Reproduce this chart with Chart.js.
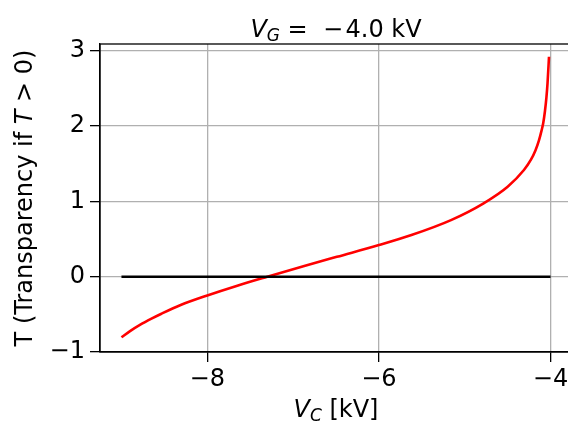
<!DOCTYPE html>
<html>
<head>
<meta charset="utf-8">
<script src="https://cdn.jsdelivr.net/npm/chart.js@4/dist/chart.umd.min.js"></script>
<style>
  html, body { margin: 0; padding: 0; background: #fff; overflow: hidden; }
  canvas { display: block; }
</style>
</head>
<body>
<canvas id="c" width="600" height="424"></canvas>
<script>
// Collector voltage V_C (kV) and the resulting T value
const vc = [-9.0, -8.9, -8.78, -8.65, -8.54, -8.31, -8.0, -7.65, -7.30, -6.87, -6.49, -6.0,
            -5.63, -5.16, -4.78, -4.50, -4.31, -4.23, -4.175, -4.135, -4.105,
            -4.085, -4.065, -4.048, -4.035, -4.018];
const tValues = [-0.805, -0.723, -0.637, -0.557, -0.495, -0.376, -0.249, -0.119, 0.0, 0.142, 0.264, 0.42,
                 0.55, 0.752, 0.975, 1.195, 1.417, 1.55, 1.68, 1.81, 1.94,
                 2.04, 2.2, 2.38, 2.57, 2.92];

// Zero reference line
const zeroX = [-9.0, -4.0];
const zeroY = [0, 0];

// Axis ticks
const xTicks = [-8, -6, -4];
const yTicks = [-1, 0, 1, 2, 3];

const FONT = '"DejaVu Sans", "Liberation Sans", sans-serif';
const FS = 24;

// Draws the mixed-style labels (italic symbols with subscripts) and the full axes frame
const labelsPlugin = {
  id: 'labels',
  afterDraw(chart) {
    const ctx = chart.ctx;
    const a = chart.chartArea;
    ctx.save();
    // frame on all four sides
    ctx.strokeStyle = '#000';
    ctx.lineWidth = 1.3;
    ctx.strokeRect(a.left, a.top, a.right - a.left, a.bottom - a.top);

    function runs(parts, x, y, align) {
      // parts: [text, fontSizeScale, italic, dy]
      let total = 0;
      const widths = parts.map(p => {
        ctx.font = (p[2] ? 'oblique ' : '') + Math.round(FS * p[1]) + 'px ' + FONT;
        const w = ctx.measureText(p[0]).width;
        total += w;
        return w;
      });
      let cx = align === 'center' ? x - total / 2 : x;
      parts.forEach((p, i) => {
        ctx.font = (p[2] ? 'oblique ' : '') + Math.round(FS * p[1]) + 'px ' + FONT;
        ctx.fillText(p[0], cx, y + (p[3] || 0));
        cx += widths[i];
      });
    }

    ctx.fillStyle = '#000';
    ctx.textBaseline = 'alphabetic';
    ctx.textAlign = 'left';
    const midX = (a.left + a.right) / 2;

    // title
    runs([['V', 1, true], ['G', 0.7, true, 4], [' =  \u2212\u200a4.0 kV', 1, false]], midX, 37, 'center');

    // x-axis label
    runs([['V', 1, true], ['C', 0.7, true, 4], [' [kV]', 1, false]], midX, 417, 'center');

    // y-axis label, rotated
    ctx.translate(32, (a.top + a.bottom) / 2);
    ctx.rotate(-Math.PI / 2);
    runs([['T (Transparency if ', 1, false], ['T', 1, true], [' > 0)', 1, false]], 0, 0, 'center');
    ctx.restore();
  }
};

new Chart(document.getElementById('c'), {
  type: 'line',
  data: {
    datasets: [
      {
        data: vc.map((x, i) => ({ x: x, y: tValues[i] })),
        borderColor: '#ff0000',
        borderWidth: 2.6,
        pointRadius: 0,
        cubicInterpolationMode: 'monotone',
        order: 2
      },
      {
        data: zeroX.map((x, i) => ({ x: x, y: zeroY[i] })),
        borderColor: '#000000',
        borderWidth: 2.6,
        pointRadius: 0,
        order: 1
      }
    ]
  },
  options: {
    responsive: false,
    animation: false,
    layout: { padding: { top: 44, right: 28, left: 0, bottom: 0 } },
    plugins: { legend: { display: false }, tooltip: { enabled: false }, title: { display: false } },
    scales: {
      x: {
        type: 'linear',
        min: -9.25,
        max: -3.75,
        afterBuildTicks: s => { s.ticks = xTicks.map(v => ({ value: v })); },
        afterFit: s => { s.height = 72; },
        grid: { color: '#b0b0b0', lineWidth: 1.3, tickLength: 10, tickColor: '#000', tickWidth: 1.3 },
        border: { display: true, color: '#000', width: 1.3 },
        ticks: {
          font: { family: FONT, size: FS },
          color: '#000',
          padding: 3,
          maxRotation: 0,
          callback: v => (v < 0 ? '\u2212' + Math.abs(v) : String(v))
        }
      },
      y: {
        type: 'linear',
        min: -1,
        max: 3.09,
        afterBuildTicks: s => { s.ticks = yTicks.map(v => ({ value: v })); },
        afterFit: s => { s.width = 100; },
        grid: { color: '#b0b0b0', lineWidth: 1.3, tickLength: 10, tickColor: '#000', tickWidth: 1.3 },
        border: { display: true, color: '#000', width: 1.3 },
        ticks: {
          font: { family: FONT, size: FS },
          color: '#000',
          padding: 5,
          callback: v => (v < 0 ? '\u2212' + Math.abs(v) : String(v))
        }
      }
    }
  },
  plugins: [labelsPlugin]
});
</script>
</body>
</html>
